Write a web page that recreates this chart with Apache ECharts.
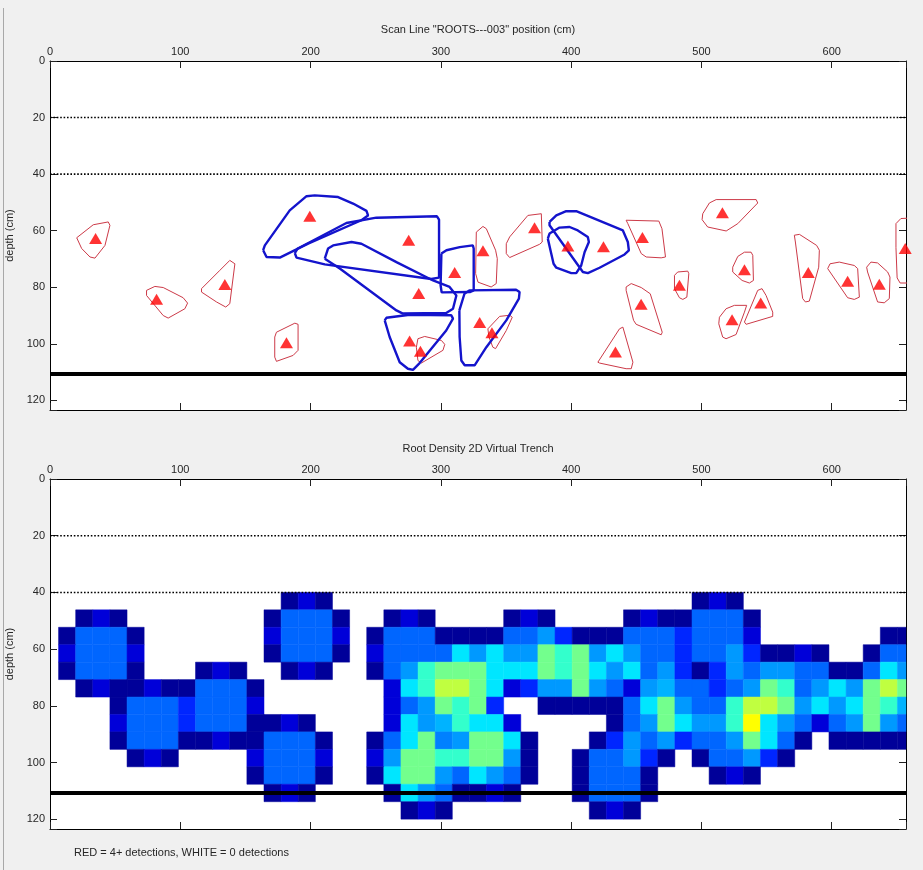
<!DOCTYPE html>
<html><head><meta charset="utf-8">
<script src="https://cdn.jsdelivr.net/npm/echarts@6/dist/echarts.min.js"></script>
<style>html,body{margin:0;padding:0;background:#f0f0f0;}#c{width:923px;height:870px;}</style>
</head><body><div id="c"></div>
<script>
// ---------------- data ----------------
const X_MAX = 657;            // scan line length (cm)
const DEPTH_MAX = 123.4;      // depth extent (cm)
const xTickLabels = [0, 100, 200, 300, 400, 500, 600];
const depthTickLabels = [0, 20, 40, 60, 80, 100, 120];
const guideDepths = [20, 40];
const trenchDepth = 110.7;

// detections: [position cm, depth cm]
const detections = [
  [35.0,62.8],[81.8,84.2],[134.2,79.0],[181.5,99.6],[199.4,54.9],[275.3,63.4],[283.0,82.2],
  [276.0,99.0],[284.3,102.6],[310.6,74.8],[332.3,67.1],[329.8,92.5],[339.2,96.1],[371.9,59.0],
  [397.5,65.4],[424.8,65.7],[454.7,62.4],[453.7,86.0],[434.0,102.9],[483.1,79.3],[516.1,53.7],
  [533.0,73.8],[545.5,85.6],[523.5,91.5],[582.0,74.8],[612.2,77.9],[636.5,78.9],[656.4,66.3]
];

// single-detection hulls (red)
const redHulls = [
  [[20.5,62.5],[33.2,57.9],[44.7,56.9],[46.0,58.1],[42.2,65.2],[34.5,69.7],[30.7,69.3],[24.3,66.3]],
  [[74.1,81.1],[80.5,79.7],[86.9,80.1],[102.2,83.7],[105.6,85.6],[103.5,87.6],[90.7,90.9],[86.9,90.0],[74.1,82.9]],
  [[116.3,80.5],[130.4,74.0],[138.0,70.5],[141.9,71.7],[138.0,85.8],[134.9,87.0],[127.8,85.2],[116.3,81.7]],
  [[173.8,95.9],[187.9,92.7],[190.4,93.1],[190.4,102.3],[186.6,104.1],[173.8,106.2],[172.5,104.7],[172.5,97.6]],
  [[282.4,98.2],[287.6,97.4],[300.4,98.8],[303.0,100.2],[301.6,102.3],[285.0,106.8],[282.4,105.9],[281.2,101.2]],
  [[327.2,60.5],[332.3,58.5],[334.9,59.3],[342.0,66.9],[343.3,69.9],[342.5,78.7],[338.6,79.9],[328.5,78.2],[326.7,75.2]],
  [[336.1,94.7],[345.1,90.3],[352.8,89.9],[354.8,90.6],[350.2,95.3],[342.0,101.7],[339.9,101.2],[336.9,97.6]],
  [[350.2,64.6],[352.8,62.2],[366.8,54.6],[377.1,54.0],[378.3,54.6],[377.8,64.0],[375.8,64.8],[352.8,69.5],[350.2,68.1]],
  [[442.2,56.3],[467.3,56.6],[469.7,59.3],[472.4,69.3],[469.1,69.6],[457.6,69.3],[453.8,68.1],[443.5,57.5]],
  [[442.2,79.9],[446.1,78.7],[453.8,80.1],[460.7,82.3],[469.9,95.9],[469.1,96.8],[449.9,93.1],[447.9,91.7],[442.2,81.1]],
  [[420.5,106.5],[437.1,94.7],[439.7,94.1],[447.4,106.5],[446.1,108.8],[442.2,108.8],[421.8,106.8]],
  [[479.3,75.8],[481.8,74.6],[489.5,74.3],[490.3,75.2],[488.8,83.5],[485.7,84.3],[483.1,83.7],[479.3,80.5]],
  [[501.0,54.0],[506.1,50.2],[511.3,49.0],[542.0,49.0],[543.2,50.2],[527.9,57.5],[519.0,60.1],[504.8,58.7],[500.5,56.1]],
  [[524.0,72.9],[527.9,69.1],[533.0,67.6],[538.1,67.6],[539.4,68.7],[539.9,77.6],[536.8,78.5],[531.2,77.6],[524.0,74.6]],
  [[533.0,92.3],[543.2,81.1],[546.5,80.5],[549.6,82.9],[554.7,88.8],[554.7,90.3],[534.3,93.1]],
  [[513.8,90.6],[518.9,87.6],[525.3,86.4],[534.7,86.4],[533.0,88.8],[526.6,96.7],[518.9,98.2],[516.3,97.6],[513.3,92.9]],
  [[571.3,61.6],[575.2,61.3],[588.4,65.2],[590.5,66.9],[590.0,72.9],[582.8,84.9],[579.8,85.2],[577.7,84.0],[572.1,64.0]],
  [[596.9,73.4],[598.7,71.7],[605.8,71.1],[617.3,72.3],[619.9,73.4],[621.2,83.5],[617.3,84.3],[612.2,83.7]],
  [[626.8,72.9],[630.1,71.1],[635.2,71.4],[642.9,74.6],[644.7,76.4],[644.2,84.0],[640.3,85.5],[635.2,85.2],[627.5,74.6]],
  [[649.3,57.5],[653.1,55.7],[662.0,55.5],[662.0,78.5],[652.5,78.5],[650.2,76.7],[649.3,66.0]]
];

// grouped hulls (blue)
const blueHulls = [
  [[163.6,66.9],[164.9,65.2],[184.0,52.8],[196.9,47.8],[203.2,47.5],[221.1,48.1],[232.6,50.4],[242.9,53.0],[244.1,54.6],[239.0,56.3],[198.1,64.6],[176.4,69.5],[166.2,69.3]],
  [[187.9,67.9],[189.9,66.4],[227.5,57.3],[250.5,55.4],[297.0,54.9],[298.6,56.1],[298.6,76.6],[292.7,77.1],[210.9,71.9],[189.2,69.5]],
  [[210.9,69.9],[213.4,66.3],[217.3,65.2],[231.4,64.0],[239.0,64.6],[265.9,71.1],[294.0,77.6],[306.7,79.9],[311.9,82.9],[309.3,87.6],[304.1,89.1],[270.9,89.3],[265.9,88.2],[222.4,73.4]],
  [[256.9,91.7],[258.2,90.8],[276.1,89.7],[308.0,89.9],[309.3,91.1],[304.1,95.3],[283.7,106.8],[278.6,109.2],[274.7,108.8],[268.4,106.5],[260.7,97.6]],
  [[300.4,68.1],[304.3,66.9],[314.5,65.8],[324.5,65.2],[325.2,66.3],[325.2,81.1],[322.2,81.7],[300.6,81.8],[299.8,79.3]],
  [[314.2,88.2],[318.1,82.3],[321.9,81.1],[357.7,80.9],[360.4,81.7],[359.9,84.0],[350.2,91.7],[334.9,101.2],[325.9,107.6],[318.3,107.6],[315.7,105.9],[314.4,97.6]],
  [[383.4,56.9],[388.6,54.6],[396.2,53.1],[403.9,53.1],[439.7,59.9],[443.5,64.0],[444.3,67.0],[441.0,68.4],[421.8,73.1],[412.8,75.0],[409.0,74.6],[383.4,58.1]],
  [[382.1,62.8],[383.4,61.0],[391.1,58.9],[398.8,58.7],[405.1,59.9],[412.8,62.2],[413.6,64.0],[410.3,67.6],[407.7,72.3],[403.9,75.0],[400.1,75.0],[388.6,73.1],[386.5,71.7],[384.7,68.1]]
];

// root density grid: column step along line, row step in depth
const cellWidth = 13.14;   // cm
const cellHeight = 6.15;   // cm
const firstRow = 7;        // row index of densityRow07 (depth = row * cellHeight)
const densityRow07 = [0,0,0,0,0,0,0,0,0,0, 0,0,0,0,.1,.35,.1,0,0,0, 0,0,0,0,0,0,0,0,0,0, 0,0,0,0,0,0,0,0,.1,.35, .1,0,0,0,0,0,0,0,0,0, 0];
const densityRow08 = [0,0,.1,.35,.1,0,0,0,0,0, 0,0,0,.1,.9,.9,.9,.1,0,0, .1,.35,.1,0,0,0,0,.1,.35,.1, 0,0,0,0,.1,.35,.1,.1,.9,.9, .9,.1,0,0,0,0,0,0,0,0, 0];
const densityRow09 = [0,.1,.9,.9,.9,.1,0,0,0,0, 0,0,0,.35,.9,.9,.9,.35,0,.1, .9,.9,.9,.1,.1,.1,.1,.9,.9,1.1, .65,.1,.1,.1,.9,.9,.9,.65,.9,.9, .9,.35,0,0,0,0,0,0,0,.1, .1];
const densityRow10 = [0,.35,.9,.9,.9,.35,0,0,0,0, 0,0,0,.1,.9,.9,.9,.1,0,.35, .9,.9,.9,.9,1.4,1.1,1.4,1.1,1.1,1.95, 1.7,1.95,1.1,1.4,1.1,.9,.9,.65,.9,.9, 1.1,.65,.1,.1,.35,.1,0,0,.1,.9, .9];
const densityRow11 = [0,.1,.9,.9,.9,.1,0,0,0,.1, .35,.1,0,0,.1,.35,.1,0,0,.1, .9,1.1,1.7,1.95,1.95,1.95,1.4,1.4,1.4,1.95, 1.7,1.95,1.4,1.1,1.4,.9,1.1,.65,.1,.65, 1.1,.9,1.1,1.1,.9,.9,.1,.1,.9,1.4, 1.1];
const densityRow12 = [0,0,.1,.35,.1,.1,.35,.1,.1,.9, .9,.9,.1,0,0,0,0,0,0,0, .35,1.4,1.7,2.25,2.25,1.95,1.4,.35,.65,1.1, 1.1,1.95,1.1,.9,.35,1.1,1.2,.9,.9,.65, .9,1.1,1.95,1.7,.9,1.1,1.4,1.1,1.95,2.25, 1.95];
const densityRow13 = [0,0,0,0,.1,.9,.9,.9,.65,.9, .9,.9,.35,0,0,0,0,0,0,0, .35,.9,1.1,1.95,1.7,1.95,.65,0,0,.1, .1,.1,.1,.1,.9,1.4,1.95,1.1,.9,.9, 1.7,2.25,2.25,1.95,1.1,1.4,1.1,1.4,1.95,1.7, 1.2];
const densityRow14 = [0,0,0,0,.35,.9,.9,.9,.65,.9, .9,.9,.1,.1,.35,.1,0,0,0,0, .35,1.4,1.1,1.2,1.7,1.4,1.4,.35,0,0, 0,0,0,.1,.9,1.1,1.95,1.4,1.1,1.1, 1.7,2.5,1.4,1.1,.9,.35,.9,1.1,1.95,1.1, .9];
const densityRow15 = [0,0,0,0,.1,.9,.9,.9,.1,.1, .35,.1,.1,.9,.9,.9,.1,0,0,.1, .9,1.4,1.95,1.0,1.1,1.95,1.95,1.4,.1,0, 0,0,.1,.65,1.1,.9,1.1,.65,.9,.9, 1.1,1.95,1.4,.9,.1,0,.1,.1,.1,.1, .1];
const densityRow16 = [0,0,0,0,0,.1,.35,.1,0,0, 0,0,.35,.9,.9,.9,.35,0,0,.35, 1.1,1.95,1.95,1.7,1.7,1.95,1.95,1.1,.1,0, 0,.1,.9,.9,1.1,.65,.1,0,.1,.9, .9,1.1,.65,.1,0,0,0,0,0,0, 0];
const densityRow17 = [0,0,0,0,0,0,0,0,0,0, 0,0,.1,.9,.9,.9,.1,0,0,.1, 1.4,1.95,1.95,1.1,.9,1.4,1.1,.9,.1,0, 0,.1,.9,.9,.9,.1,0,0,0,.1, .35,.1,0,0,0,0,0,0,0,0, 0];
const densityRow18 = [0,0,0,0,0,0,0,0,0,0, 0,0,0,.1,.35,.1,0,0,0,0, .1,1.4,1.1,.9,.1,.1,.35,.1,0,0, 0,.1,.9,.9,.9,.1,0,0,0,0, 0,0,0,0,0,0,0,0,0,0, 0];
const densityRow19 = [0,0,0,0,0,0,0,0,0,0, 0,0,0,0,0,0,0,0,0,0, 0,.1,.35,.1,0,0,0,0,0,0, 0,0,.1,.35,.1,0,0,0,0,0, 0,0,0,0,0,0,0,0,0,0, 0];
const densityRows = [densityRow07,densityRow08,densityRow09,densityRow10,densityRow11,densityRow12,densityRow13,
  densityRow14,densityRow15,densityRow16,densityRow17,densityRow18,densityRow19];
const DENSITY_MAX = 4; // red = 4+ detections

// ---------------- chart ----------------
const FONT = "'Liberation Sans', Arial, sans-serif";
const TXT = '#262626';
const jet = ['#000080','#0000ff','#0080ff','#00ffff','#80ff80','#ffff00','#ff8000','#ff0000','#800000'];

const heatData = [];
densityRows.forEach((row, r) => {
  row.forEach((v, k) => { if (v > 0) heatData.push([k * cellWidth, (firstRow + r) * cellHeight, v]); });
});

const grids = [
  {left: 50, top: 61, width: 856, height: 349},
  {left: 50, top: 479, width: 856, height: 350}
];

const xAxes = [], yAxes = [];
grids.forEach((g, gi) => {
  ['top','bottom'].forEach(pos => {
    xAxes.push({
      gridIndex: gi, type: 'value', position: pos, min: 0, max: X_MAX, interval: 100,
      axisLine: {show: true, onZero: false, lineStyle: {color: '#000', width: 1}},
      axisTick: {show: true, inside: true, length: 7, lineStyle: {color: '#222'}},
      axisLabel: {show: pos === 'top', margin: 4, color: TXT, fontSize: 11, fontFamily: FONT,
        formatter: v => xTickLabels.includes(v) ? String(v) : ''},
      splitLine: {show: false}
    });
  });
  ['left','right'].forEach(pos => {
    yAxes.push({
      gridIndex: gi, type: 'value', position: pos, inverse: true, min: 0, max: DEPTH_MAX, interval: 20,
      name: pos === 'left' ? 'depth (cm)' : '', nameLocation: 'middle', nameGap: 33, nameRotate: 90,
      nameTextStyle: {color: TXT, fontSize: 11, fontFamily: FONT},
      axisLine: {show: true, onZero: false, lineStyle: {color: '#000', width: 1}},
      axisTick: {show: true, inside: true, length: 7, lineStyle: {color: '#222'}},
      axisLabel: {show: pos === 'left', margin: 5, color: TXT, fontSize: 11, fontFamily: FONT,
        formatter: v => depthTickLabels.includes(v) ? String(v) : ''},
      splitLine: {show: false}
    });
  });
});

const series = [];
// bottom heatmap (series 0)
series.push({
  type: 'custom', xAxisIndex: 2, yAxisIndex: 2, data: heatData, z: 1,
  encode: {x: 0, y: 1},
  renderItem: function (params, api) {
    const x = api.value(0), y = api.value(1);
    const p0 = api.coord([x - cellWidth / 2, y - cellHeight / 2]);
    const p1 = api.coord([x + cellWidth / 2, y + cellHeight / 2]);
    const cs = params.coordSys;
    const shape = echarts.graphic.clipRectByRect(
      {x: Math.min(p0[0], p1[0]), y: Math.min(p0[1], p1[1]), width: Math.abs(p1[0] - p0[0]), height: Math.abs(p1[1] - p0[1])},
      {x: cs.x, y: cs.y, width: cs.width, height: cs.height});
    if (!shape) return;
    const c = api.visual('color');
    return {type: 'rect', shape: shape, style: {fill: c, stroke: c, lineWidth: 0.5}};
  }
});

redHulls.forEach(h => series.push({
  type: 'line', xAxisIndex: 0, yAxisIndex: 0, data: h.concat([h[0]]), symbol: 'none', silent: true, z: 2,
  lineStyle: {color: '#cc3a48', width: 1}
}));
blueHulls.forEach(h => series.push({
  type: 'line', xAxisIndex: 0, yAxisIndex: 0, data: h.concat([h[0]]), symbol: 'none', silent: true, z: 2,
  lineStyle: {color: '#1414cc', width: 2.4}
}));
series.push({
  type: 'scatter', xAxisIndex: 0, yAxisIndex: 0, data: detections, symbol: 'triangle', symbolSize: [13, 11],
  itemStyle: {color: '#ff0000'}, z: 4, silent: true
});
[0, 2].forEach(ax => {
  guideDepths.forEach(d => series.push({
    type: 'line', xAxisIndex: ax, yAxisIndex: ax, data: [[0, d], [X_MAX, d]], symbol: 'none', silent: true, z: 5,
    lineStyle: {color: '#000', width: 1.6, type: [1.6, 1.8]}
  }));
  series.push({
    type: 'line', xAxisIndex: ax, yAxisIndex: ax, data: [[0, trenchDepth], [X_MAX, trenchDepth]], symbol: 'none', silent: true, z: 5,
    lineStyle: {color: '#000', width: 4}
  });
});

const chart = echarts.init(document.getElementById('c'), null, {renderer: 'canvas'});
chart.setOption({
  backgroundColor: '#f0f0f0',
  animation: false,
  grid: grids.map(g => Object.assign({containLabel: false, outerBoundsMode: 'none', show: true, backgroundColor: '#fff', borderWidth: 0}, g)),
  xAxis: xAxes,
  yAxis: yAxes,
  visualMap: {type: 'continuous', show: false, min: 0, max: DENSITY_MAX, seriesIndex: 0, dimension: 2,
    inRange: {color: jet}},
  series: series,
  graphic: [
    {type: 'line', shape: {x1: 3.5, y1: 8, x2: 3.5, y2: 870}, style: {stroke: '#a8a8a8', lineWidth: 1}, silent: true},
    {type: 'text', x: 478, y: 30, style: {text: 'Scan Line "ROOTS---003" position (cm)', font: '11px ' + FONT, fill: TXT, textAlign: 'center', textVerticalAlign: 'middle'}},
    {type: 'text', x: 478, y: 449, style: {text: 'Root Density 2D Virtual Trench', font: '11px ' + FONT, fill: TXT, textAlign: 'center', textVerticalAlign: 'middle'}},
    {type: 'text', x: 74, y: 853, style: {text: 'RED = 4+ detections, WHITE = 0 detections', font: '11px ' + FONT, fill: TXT, textAlign: 'left', textVerticalAlign: 'middle'}}
  ]
});
</script></body></html>
